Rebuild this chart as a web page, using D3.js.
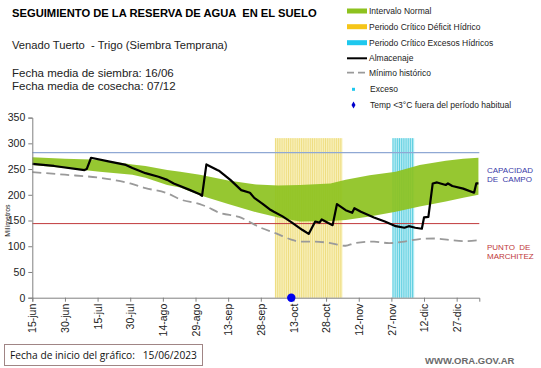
<!DOCTYPE html>
<html>
<head>
<meta charset="utf-8">
<script src="https://cdn.jsdelivr.net/npm/d3@7"></script>
<style>
  html, body { margin: 0; padding: 0; background: #ffffff; }
  svg { display: block; font-family: "Liberation Sans", Arial, sans-serif; }
  text { white-space: pre; }
</style>
</head>
<body>
<svg id="chart" width="541" height="368"></svg>
<script>
// ---------------- DATA ----------------
const tickDays   = [0, 15, 30, 45, 60, 75, 90, 105, 120, 135, 150, 165, 180, 195];
const tickLabels = ["15-jun","30-jun","15-jul","30-jul","14-ago","29-ago","13-sep","28-sep","13-oct","28-oct","12-nov","27-nov","12-dic","27-dic"];
const yTicks     = [0, 50, 100, 150, 200, 250, 300, 350];

// Almacenaje (mm) - days since 15/06/2023
const almDays   = [0, 10, 24, 25, 27, 35, 43, 46, 52, 58, 62, 65, 72, 77, 78, 80, 85, 86, 91, 96, 100, 102, 106, 109, 111, 115, 119, 124, 127, 130, 132, 133, 136, 138, 140, 144, 147, 148, 151, 157, 162, 167, 171, 173, 176, 179, 180, 182, 184, 186, 190, 191, 193, 198, 203, 204, 205];
const almValues = [260, 256, 248, 250, 272, 265, 258, 252, 242, 235, 229, 222, 210, 201, 198, 259, 248, 246, 229, 209, 204, 194, 182, 172, 167, 158, 147, 132, 124, 148, 146, 152, 145, 141, 182, 170, 165, 174, 167, 156, 148, 139, 136, 139, 136, 134, 156, 157, 222, 224, 219, 222, 217, 212, 204, 222, 222];

// Intervalo normal (mm)
const normDays  = [0, 15, 31, 46, 52, 62, 68, 77, 90, 103, 113, 123, 137, 144, 155, 167, 178, 190, 198, 205];
const normUpper = [273, 270, 268, 259, 256, 248, 245, 239, 228, 220, 218, 219, 222, 229, 238, 245, 258, 266, 270, 272];
const normLower = [258, 252, 245, 239, 233, 219, 214, 199, 182, 166, 156, 148, 149, 151, 158, 167, 177, 187, 194, 200];

// Mínimo histórico (mm)
const minDays   = [0, 15, 31, 45, 52, 62, 68, 77, 80, 86, 95, 105, 112, 119, 123, 130, 137, 144, 148, 157, 164, 171, 178, 185, 192, 199, 205];
const minValues = [244, 239, 233, 222, 213, 203, 191, 182, 177, 165, 157, 136, 125, 113, 109, 109, 106, 101, 106, 109, 106, 109, 114, 115, 112, 110, 112];

// Períodos críticos (días desde el inicio)
const deficitPeriod = [112, 142];
const excessPeriod  = [166, 175];
const periodTop     = 310;

// Referencias
const capacidadCampo   = 282;
const puntoMarchitez   = 144;

// Temp <3°C fuera del período habitual
const frostDays   = [119];
const frostValues = [0];

// ---------------- CHART ----------------
const svg = d3.select("#chart");
const x = d3.scaleLinear().domain([0, 205.4]).range([32.3, 479.3]);
const y = d3.scaleLinear().domain([0, 350]).range([297.7, 117.6]);

// Period bars (one per day, striped)
function drawPeriod(period, fill, stroke) {
  const days = d3.range(period[0], period[1] + 1);
  const g = svg.append("g");
  g.selectAll("rect").data(days).join("rect")
    .attr("x", d => x(d - 0.5))
    .attr("y", y(periodTop))
    .attr("width", d => x(d + 0.5) - x(d - 0.5))
    .attr("height", y(0) - y(periodTop))
    .attr("fill", fill);
  g.selectAll("line").data(days).join("line")
    .attr("x1", d => x(d - 0.5) + 0.5).attr("x2", d => x(d - 0.5) + 0.5)
    .attr("y1", y(periodTop)).attr("y2", y(0))
    .attr("stroke", stroke).attr("stroke-width", 0.8);
}
drawPeriod(deficitPeriod, "#f8f0b8", "#ecd873");
drawPeriod(excessPeriod,  "#b5ecf4", "#47c6db");

// Normal band
const normData = normDays.map((d, i) => ({day: d, lo: normLower[i], hi: normUpper[i]}));
svg.append("path")
  .datum(normData)
  .attr("d", d3.area().x(d => x(d.day)).y0(d => y(d.lo)).y1(d => y(d.hi)))
  .attr("fill", "#8dc21f")
  .attr("fill-opacity", 0.92);

// Reference lines
svg.append("line")
  .attr("x1", x(0)).attr("x2", x(205.4))
  .attr("y1", y(capacidadCampo)).attr("y2", y(capacidadCampo))
  .attr("stroke", "#8fa8d4").attr("stroke-width", 1.3);
svg.append("line")
  .attr("x1", x(0)).attr("x2", x(205.4))
  .attr("y1", y(puntoMarchitez)).attr("y2", y(puntoMarchitez))
  .attr("stroke", "#c0393b").attr("stroke-width", 1);

// Mínimo histórico
const minData = minDays.map((d, i) => ({day: d, v: minValues[i]}));
svg.append("path")
  .datum(minData)
  .attr("d", d3.line().x(d => x(d.day)).y(d => y(d.v)).curve(d3.curveMonotoneX))
  .attr("fill", "none")
  .attr("stroke", "#9a9a9a")
  .attr("stroke-width", 1.8)
  .attr("stroke-dasharray", "9,5");

// Almacenaje
const almData = almDays.map((d, i) => ({day: d, v: almValues[i]}));
svg.append("path")
  .datum(almData)
  .attr("d", d3.line().x(d => x(d.day)).y(d => y(d.v)))
  .attr("fill", "none")
  .attr("stroke", "#000")
  .attr("stroke-width", 2.2)
  .attr("stroke-linejoin", "round");

// Axes
const xAxis = svg.append("g")
  .attr("transform", `translate(0,${y(0)})`)
  .call(d3.axisBottom(x).tickValues(tickDays).tickFormat((d, i) => tickLabels[i]).tickSizeOuter(0).tickSize(4));
xAxis.select(".domain").attr("stroke", "#808080");
xAxis.selectAll(".tick line").attr("stroke", "#808080");
xAxis.selectAll("text")
  .attr("transform", "rotate(-90)")
  .attr("text-anchor", "end")
  .attr("x", -6).attr("y", 0).attr("dy", "0.35em")
  .attr("font-size", 10.5).attr("fill", "#222")
  .attr("font-family", "Liberation Sans, Arial, sans-serif");

const yAxis = svg.append("g")
  .attr("transform", `translate(${x(0)},0)`)
  .call(d3.axisLeft(y).tickValues(yTicks).tickSizeOuter(0).tickSize(4));
yAxis.select(".domain").attr("stroke", "#808080");
yAxis.selectAll(".tick line").attr("stroke", "#808080");
yAxis.selectAll("text")
  .attr("font-size", 10.5).attr("fill", "#222").attr("x", -7)
  .attr("font-family", "Liberation Sans, Arial, sans-serif");

// Frost marker
svg.selectAll(".frost").data(frostDays).join("circle")
  .attr("class", "frost")
  .attr("cx", d => x(d))
  .attr("cy", (d, i) => y(frostValues[i]))
  .attr("r", 4.2)
  .attr("fill", "#0000ee");

// Y label
svg.append("text")
  .attr("transform", `translate(10,${y(150)}) rotate(-90)`)
  .attr("text-anchor", "middle")
  .attr("font-size", 7).attr("fill", "#222")
  .text("Milímetros");

// Titles
svg.append("text").attr("x", 12).attr("y", 17)
  .attr("font-size", 11.2).attr("font-weight", "bold").attr("fill", "#000")
  .text("SEGUIMIENTO DE LA RESERVA DE AGUA  EN EL SUELO");
svg.append("text").attr("x", 12).attr("y", 49)
  .attr("font-size", 11.2).attr("fill", "#222")
  .text("Venado Tuerto  - Trigo (Siembra Temprana)");
svg.append("text").attr("x", 12).attr("y", 77)
  .attr("font-size", 11.5).attr("fill", "#222")
  .text("Fecha media de siembra: 16/06");
svg.append("text").attr("x", 12).attr("y", 90)
  .attr("font-size", 11.5).attr("fill", "#222")
  .text("Fecha media de cosecha: 07/12");

// Legend
const legend = [
  {type: "rect", color: "#8dc21f", label: "Intervalo Normal", yy: 11},
  {type: "rect", color: "#f5c518", label: "Periodo Crítico Déficit Hídrico", yy: 26.7},
  {type: "rect", color: "#1ec8ee", label: "Periodo Crítico Excesos Hídricos", yy: 42.7},
  {type: "line", color: "#000", label: "Almacenaje", yy: 58.3},
  {type: "dash", color: "#9a9a9a", label: "Mínimo histórico", yy: 72.7},
  {type: "dot", color: "#1ec8ee", label: "Exceso", yy: 89.3},
  {type: "diamond", color: "#0000cc", label: "Temp <3°C fuera del período habitual", yy: 105}
];
const lg = svg.append("g");
legend.forEach(it => {
  if (it.type === "rect") {
    lg.append("rect").attr("x", 347).attr("y", it.yy - 2.5).attr("width", 20).attr("height", 5).attr("fill", it.color);
  } else if (it.type === "line") {
    lg.append("line").attr("x1", 347).attr("x2", 367).attr("y1", it.yy).attr("y2", it.yy).attr("stroke", it.color).attr("stroke-width", 2);
  } else if (it.type === "dash") {
    lg.append("line").attr("x1", 347).attr("x2", 367).attr("y1", it.yy).attr("y2", it.yy).attr("stroke", it.color).attr("stroke-width", 1.8).attr("stroke-dasharray", "7,4");
  } else if (it.type === "dot") {
    lg.append("rect").attr("x", 352).attr("y", it.yy - 1.5).attr("width", 3).attr("height", 3).attr("fill", it.color);
  } else {
    lg.append("path").attr("transform", `translate(353.5,${it.yy})`).attr("d", d3.symbol(d3.symbolDiamond, 14)).attr("fill", it.color);
  }
  lg.append("text").attr("x", it.type === "dot" || it.type === "diamond" ? 370 : 369).attr("y", it.yy).attr("dy", "0.35em")
    .attr("font-size", 8.5).attr("fill", "#222").text(it.label);
});

// Right labels
svg.append("text").attr("x", 487).attr("y", 173).attr("font-size", 8).attr("fill", "#3a3aa8").text("CAPACIDAD");
svg.append("text").attr("x", 487).attr("y", 182).attr("font-size", 8).attr("fill", "#3a3aa8").text("DE  CAMPO");
svg.append("text").attr("x", 487).attr("y", 250).attr("font-size", 8).attr("fill", "#c0393b").text("PUNTO  DE");
svg.append("text").attr("x", 487).attr("y", 259).attr("font-size", 8).attr("fill", "#c0393b").text("MARCHITEZ");

// Footer
svg.append("rect").attr("x", 4.5).attr("y", 344.5).attr("width", 198).attr("height", 21)
  .attr("fill", "#fff").attr("stroke", "#a08585").attr("stroke-width", 1);
svg.append("text").attr("x", 10).attr("y", 359)
  .attr("font-size", 10.2).attr("fill", "#111")
  .attr("font-family", "Open Sans, Liberation Sans, sans-serif")
  .text("Fecha de inicio del gráfico:   15/06/2023");
svg.append("text").attr("x", 425).attr("y", 364)
  .attr("font-size", 9.5).attr("font-weight", "bold").attr("fill", "#6a6a6a")
  .text("WWW.ORA.GOV.AR");
</script>
</body>
</html>
